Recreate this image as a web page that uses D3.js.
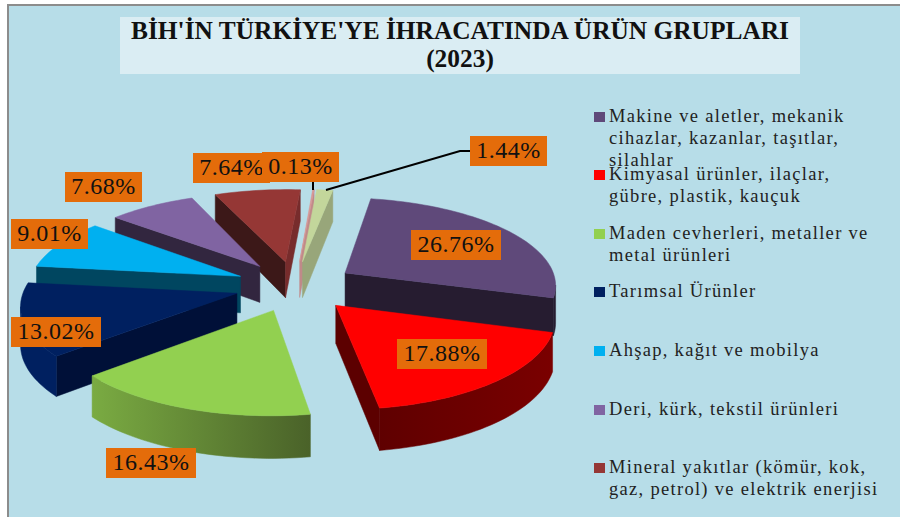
<!DOCTYPE html>
<html><head><meta charset="utf-8">
<script src="https://cdn.jsdelivr.net/npm/d3@7/dist/d3.min.js"></script>
<style>html,body{margin:0;padding:0;background:#fff}svg{display:block}text{font-family:"Liberation Serif",serif}</style>
</head><body><svg id="c" width="900" height="517"></svg>
<script>
const categories = ["Makine ve aletler, mekanik cihazlar, kazanlar, taşıtlar, silahlar","Kimyasal ürünler, ilaçlar, gübre, plastik, kauçuk","Maden cevherleri, metaller ve metal ürünleri","Tarımsal Ürünler","Ahşap, kağıt ve mobilya","Deri, kürk, tekstil ürünleri","Mineral yakıtlar (kömür, kok, gaz, petrol) ve elektrik enerjisi","Diğer","Diğer ürünler"];
const values = [26.76,17.88,16.43,13.02,9.01,7.68,7.64,0.13,1.44];
const topColors = ["#5f497a","#ff0000","#92d050","#002060","#00b0f0","#8064a2","#953735","#d99694","#c3d69b"];
const wallColors = ["#261c30","#5c0000","#4a6229","#001038","#004660","#32263f","#3c1818","#c08a8a","#98a67a"];
const endWallColors = ["#261c30","#5c0000","#4a6229","#001038","#004660","#32263f","#772c2c","#c08a8a","#98a67a"];
const rimLeft = ["#261c30","#5f0000","#7aab42","#002060","#004660","#32263f","#772c2c","#c08a8a","#98a67a"];
const rimRight = ["#261c30","#7a0000","#4a6229","#002060","#004660","#32263f","#772c2c","#c08a8a","#98a67a"];
const legendLines = [["Makine ve aletler, mekanik","cihazlar, kazanlar, taşıtlar,","silahlar"],["Kimyasal ürünler, ilaçlar,","gübre, plastik, kauçuk"],["Maden cevherleri, metaller ve","metal ürünleri"],["Tarımsal Ürünler"],["Ahşap, kağıt ve mobilya"],["Deri, kürk, tekstil ürünleri"],["Mineral yakıtlar (kömür, kok,","gaz, petrol) ve elektrik enerjisi"]];
const legendY = [117,175,234,292,351,410,468];
const labelBoxes = [[411,230],[397,339],[106,448],[11,317],[11,219],[65,172],[193,153],[262,152],[470,136]];
const titleLines = ["BİH'İN TÜRKİYE'YE İHRACATINDA ÜRÜN GRUPLARI","(2023)"];

const svg = d3.select("#c");
const defs = svg.append("defs");
svg.append("rect").attr("x",8).attr("y",5).attr("width",900).attr("height",520).attr("fill","#b7dde8").attr("stroke","#8c8c8c").attr("stroke-width",2);
svg.append("rect").attr("x",120).attr("y",17).attr("width",680).attr("height",57).attr("fill","#daedf3");
titleLines.forEach((t,i)=>svg.append("text").attr("x",460).attr("y",39+i*28).attr("text-anchor","middle").attr("font-weight","bold").attr("font-size",25.4).attr("fill","#111").text(t));

const cx=295, cy=286, R=212, k=0.42, q=0.12, D=37, E=60;
const rot = 10*Math.PI/180;
const arcs = d3.pie().sort(null).value(d=>d).startAngle(rot).endAngle(rot+2*Math.PI)(values);
const proj = (a,r,mid,drop)=>{
  const X = E*Math.sin(mid)+r*Math.sin(a), Z = -(E*Math.cos(mid)+r*Math.cos(a));
  const p = 1+q*Z/R;
  return [cx+X*p, cy+Z*k*p+(drop?D*p:0)];
};
const line = d3.line();
const order = arcs.map((d,i)=>i).sort((a,b)=>Math.cos((arcs[b].startAngle+arcs[b].endAngle)/2)-Math.cos((arcs[a].startAngle+arcs[a].endAngle)/2));
const g = svg.append("g");
order.forEach(i=>{
  const d=arcs[i], mid=(d.startAngle+d.endAngle)/2;
  const n=Math.max(2,Math.ceil((d.endAngle-d.startAngle)/0.03));
  const angs=d3.range(n+1).map(j=>d.startAngle+(d.endAngle-d.startAngle)*j/n);
  const top=angs.map(a=>proj(a,R,mid,false));
  const low=angs.map(a=>proj(a,R,mid,true));
  const apex=proj(0,0,mid,false), apexB=proj(0,0,mid,true);
  const s=g.append("g");
  const face=(pts,c)=>s.append("path").attr("d",line(pts)+"Z").attr("fill",c).attr("stroke",c).attr("stroke-width",0.5);
  if(top[0][0]<apex[0]) face([apex,top[0],low[0],apexB],wallColors[i]);
  if(apex[0]<top[n][0]) face([top[n],apex,apexB,low[n]],endWallColors[i]);
  // front-facing part of the rim as one shape with a left-to-right gradient
  const vis=d3.range(n).filter(j=>top[j+1][0]<top[j][0]);
  if(vis.length){
    const first=vis[0], last=vis[vis.length-1]+1;
    const upper=top.slice(first,last+1), lower=low.slice(first,last+1).reverse();
    const xs=upper.map(p=>p[0]);
    const id="rim"+i;
    const gr=defs.append("linearGradient").attr("id",id).attr("gradientUnits","userSpaceOnUse")
      .attr("x1",d3.min(xs)).attr("x2",d3.max(xs)).attr("y1",0).attr("y2",0);
    gr.append("stop").attr("offset",0).attr("stop-color",rimLeft[i]);
    gr.append("stop").attr("offset",1).attr("stop-color",rimRight[i]);
    face([...upper,...lower],"url(#"+id+")");
  }
  face([apex,...top],topColors[i]);
});

// leader lines
const lead=(pts)=>svg.append("path").attr("d",line(pts)).attr("fill","none").attr("stroke","#000").attr("stroke-width",2);
lead([[470,151],[460,151],[326,190]]);
lead([[313,182],[313,190]]);

// labels
values.forEach((v,i)=>{
  const w=v>=10?90:77,[x,y]=labelBoxes[i];
  svg.append("rect").attr("x",x).attr("y",y).attr("width",w).attr("height",30).attr("fill","#e46c0a");
  svg.append("text").attr("x",x+w/2).attr("y",y+22).attr("text-anchor","middle").attr("font-size",24).attr("letter-spacing",0.5).attr("fill","#111").text(v.toFixed(2)+"%");
});

// legend
legendLines.forEach((ls,i)=>{
  svg.append("rect").attr("x",594).attr("y",legendY[i]-5).attr("width",11).attr("height",10).attr("fill",topColors[i]);
  ls.forEach((t,j)=>svg.append("text").attr("x",609).attr("y",legendY[i]+5+j*22).attr("font-size",18.5).attr("letter-spacing",1.3).attr("fill","#222").text(t));
});
</script></body></html>
